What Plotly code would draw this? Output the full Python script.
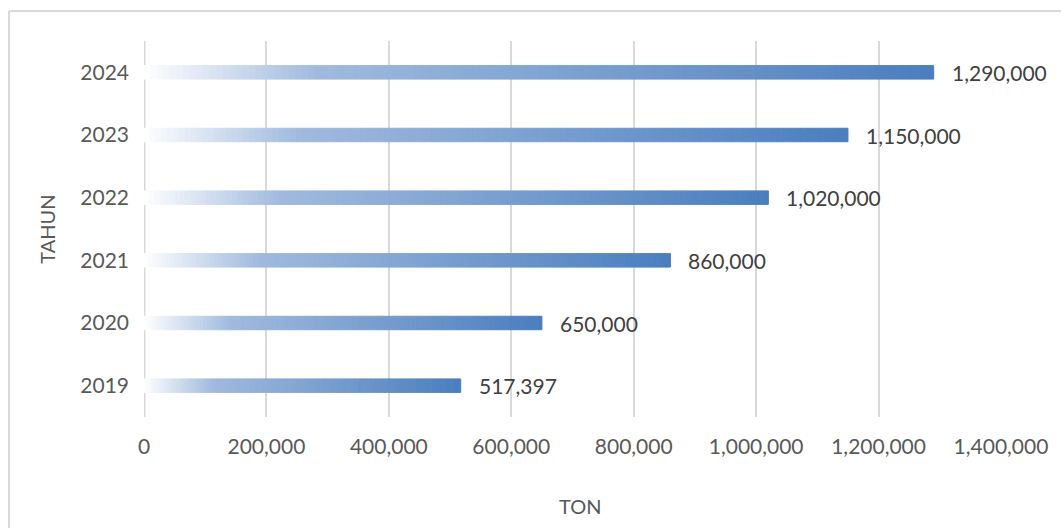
import plotly.graph_objects as go

years = ["2019", "2020", "2021", "2022", "2023", "2024"]
tons = [517397, 650000, 860000, 1020000, 1150000, 1290000]
labels = ["517,397", "650,000", "860,000", "1,020,000", "1,150,000", "1,290,000"]
tick_vals = [0, 200000, 400000, 600000, 800000, 1000000, 1200000, 1400000]
tick_text = ["0", "200,000", "400,000", "600,000", "800,000", "1,000,000", "1,200,000", "1,400,000"]

# gradient stops (fraction of bar length, rgb)
stops = [(0.0, (255, 255, 255)), (0.22, (160, 186, 222)), (1.0, (74, 126, 190))]
N = 120


def color_at(t):
    for (p0, c0), (p1, c1) in zip(stops[:-1], stops[1:]):
        if p0 <= t <= p1:
            f = (t - p0) / (p1 - p0)
            c = [round(a + (b - a) * f) for a, b in zip(c0, c1)]
            return f"rgb({c[0]},{c[1]},{c[2]})"
    c = stops[-1][1]
    return f"rgb({c[0]},{c[1]},{c[2]})"


fig = go.Figure()
for i in range(N):
    t = (i + 0.5) / N
    col = color_at(t)
    fig.add_trace(go.Bar(
        y=list(range(len(years))),
        x=[v / N for v in tons],
        base=[v * i / N for v in tons],
        orientation="h",
        width=0.215,
        marker=dict(color=col, line=dict(width=1, color=col)),
        showlegend=False,
        hoverinfo="skip",
    ))

for idx, (v, lab) in enumerate(zip(tons, labels)):
    fig.add_annotation(x=v, y=idx, text=lab, showarrow=False, xanchor="left",
                       xshift=16, font=dict(family="Lato", size=21, color="#404040"))

fig.add_annotation(text="TAHUN", xref="paper", yref="paper", x=-0.1135, y=0.5,
                   xanchor="center", yanchor="middle", textangle=-90, showarrow=False,
                   font=dict(family="Lato", size=20, color="#595959"))
fig.add_annotation(text="TON", xref="paper", yref="paper", x=0.509, y=-0.236,
                   xanchor="center", yanchor="middle",
                   showarrow=False, font=dict(family="Lato", size=20, color="#595959"))

fig.add_shape(type="line", xref="paper", yref="paper", x0=-0.1575, x1=1.1, y0=1.0798, y1=1.0798,
              line=dict(color="#d9d9d9", width=2))
fig.add_shape(type="line", xref="paper", yref="paper", x0=-0.1575, x1=-0.1575, y0=1.0798, y1=-0.4,
              line=dict(color="#d9d9d9", width=2))

fig.update_layout(
    barmode="overlay",
    width=1061, height=528,
    margin=dict(l=144, r=60, t=41, b=111),
    paper_bgcolor="white", plot_bgcolor="white",
    font=dict(family="Lato", size=21, color="#595959"),
    xaxis=dict(range=[0, 1400000], tickvals=tick_vals, ticktext=tick_text,
               showgrid=True, gridcolor="#d9d9d9", gridwidth=1.5,
               zeroline=False, showline=False, ticks="", ticklabelstandoff=15,
               tickfont=dict(family="Lato", size=21, color="#595959")),
    yaxis=dict(range=[-0.5, 5.5], tickvals=list(range(len(years))), ticktext=years,
               showgrid=False, zeroline=False,
               showline=False, ticks="", ticklabelstandoff=14,
               tickfont=dict(family="Lato", size=21, color="#595959")),
)
fig.add_shape(type="line", xref="x", yref="paper", x0=0, x1=0, y0=0, y1=1,
              line=dict(color="#d9d9d9", width=3), layer="below")

fig.write_html("out.html")
